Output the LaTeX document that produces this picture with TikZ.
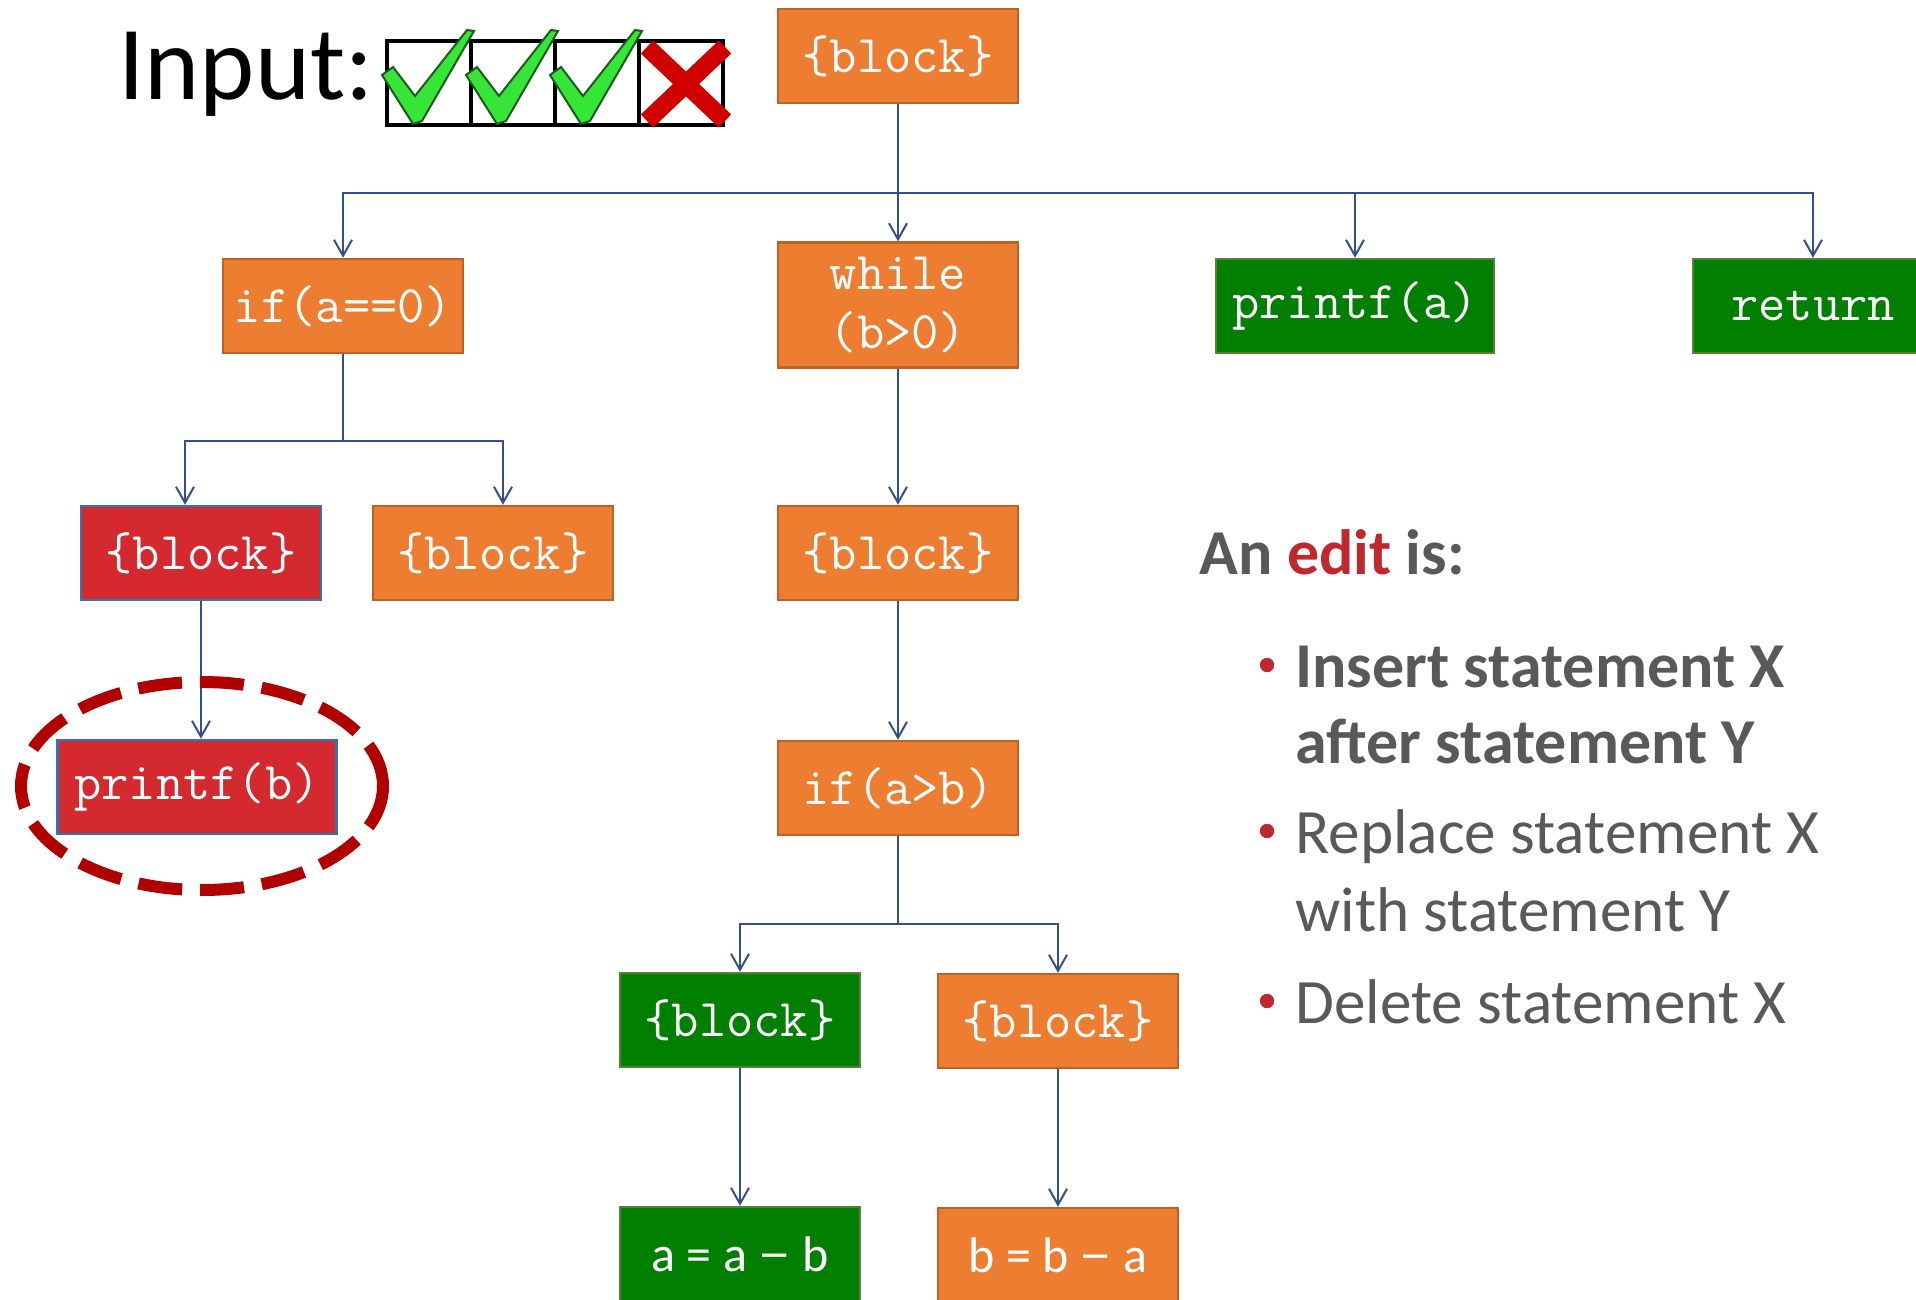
\documentclass[tikz,border=0pt]{standalone}
\usepackage{fontspec}
\setmainfont{Carlito}
\usetikzlibrary{arrows.meta}

\definecolor{stmtorange}{HTML}{ED7D31}
\definecolor{orangeline}{HTML}{BE6224}
\definecolor{stmtgreen}{HTML}{007F00}
\definecolor{greenline}{HTML}{5A7F3A}
\definecolor{stmtred}{HTML}{D3292F}
\definecolor{redline}{HTML}{2E75B6}
\definecolor{linkblue}{HTML}{34508C}
\definecolor{markred}{HTML}{B00000}
\definecolor{textgrey}{HTML}{595959}
\definecolor{editred}{HTML}{C0282F}
\definecolor{tickgreen}{HTML}{36E636}
\definecolor{tickline}{HTML}{1D5A1D}
\definecolor{crossred}{HTML}{D00000}

\begin{document}
\begin{tikzpicture}[x=0.5pt, y=-0.5pt,
  stmt/.style={draw=orangeline, fill=stmtorange, line width=1.2pt,
    minimum width=120pt, minimum height=47pt, inner sep=0pt,
    text=white, align=center, font=\ttfamily\fontsize{26.5}{29.5}\selectfont},
  okstmt/.style={stmt, draw=greenline, fill=stmtgreen},
  badstmt/.style={stmt, draw=redline, fill=stmtred},
  busline/.style={draw=linkblue, line width=1pt},
  link/.style={busline, -{Straight Barb[length=8pt,width=9pt]}},
  edititem/.style={anchor=base west, inner sep=0pt, text=textgrey,
    font=\fontsize{31.6}{37}\selectfont}]
\clip (0,0) rectangle (1916,1300);

% input test results
\node[anchor=base west, inner sep=0pt, font=\fontsize{52.5}{60}\selectfont] (inp) at (118,100) {Input:};
\foreach \bx in {387,471,555,639}
  \draw[line width=2.3pt] (\bx,41) rectangle ++(84,84);
\foreach \bx in {387,471,555}
  \filldraw[fill=tickgreen, draw=tickline, line width=1pt]
    (\bx-5,75) -- (\bx+6,67) -- (\bx+28,96) -- (\bx+80,30) -- (\bx+87,31)
    -- (\bx+35,121) -- (\bx+26,124) -- cycle;
\draw[crossred, line width=9pt] (647,47) -- (725,121);
\draw[crossred, line width=9pt] (647,121) -- (725,47);

% statements
\node[stmt] (top) at (898,56) {\{block\}};
\node[stmt] (ifa) at (343,306) {if(a==0)};
\node[stmt, minimum height=62.5pt] (loop) at (898,305) {while\\(b>0)};
\node[okstmt, minimum width=139pt] (pra) at (1355,306) {printf(a)};
\node[okstmt] (ret) at (1813,306) {return};
\node[badstmt] (blkr) at (201,553) {\{block\}};
\node[stmt] (blkb) at (493,553) {\{block\}};
\node[stmt] (body) at (898,553) {\{block\}};
\node[badstmt, minimum width=139.5pt] (prb) at (197,787) {printf(b)};
\node[stmt] (ifb) at (898,788) {if(a>b)};
\node[okstmt] (thn) at (740,1020) {\{block\}};
\node[stmt] (els) at (1058,1021) {\{block\}};
\node[okstmt, font=\fontsize{25}{30}\selectfont] (suba) at (740,1254) {a = a \scalebox{1.3}[1]{−} b};
\node[stmt, font=\fontsize{25}{30}\selectfont] (subb) at (1058,1255) {b = b \scalebox{1.3}[1]{−} a};

% top level
\coordinate (j0) at (898,193);
\draw[busline] (top) -- (j0);
\draw[link] (j0) -| (ifa);
\draw[link] (j0) -- (loop);
\draw[link] (j0) -| (pra);
\draw[link] (j0) -| (ret);

% if(a==0) branches
\coordinate (j1) at (343,441);
\draw[busline] (ifa) -- (j1);
\draw[link] (j1) -| ([xshift=-8pt]blkr.north);
\draw[link] (j1) -| ([xshift=5pt]blkb.north);
\draw[link] (blkr) -- (blkr |- prb.north);

% loop body
\draw[link] (loop) -- (body);
\draw[link] (body) -- (ifb);
\coordinate (j2) at (898,924);
\draw[busline] (ifb) -- (j2);
\draw[link] (j2) -| (thn);
\draw[link] (j2) -| (els);
\draw[link] (thn) -- (suba);
\draw[link] (els) -- (subb);

% the edited statement
\draw[markred, line width=6pt, dash pattern=on 22pt off 9pt] (202,786) ellipse [x radius=90.5pt, y radius=52pt];

% kinds of edits
\node[anchor=base west, inner sep=0pt, text=textgrey, font=\bfseries\fontsize{32}{38}\selectfont] (hdr) at (1199,574) {An \textcolor{editred}{edit} is:};
\node[edititem, font=\bfseries\fontsize{32}{37}\selectfont] (ins) at (1295,687) {Insert statement X};
\node[edititem, font=\bfseries\fontsize{32}{37}\selectfont] (ins2) at (1295,763) {after statement Y};
\node[edititem] (rep) at (1295,853) {Replace statement X};
\node[edititem] (rep2) at (1295,931) {with statement Y};
\node[edititem] (del) at (1295,1023) {Delete statement X};
\foreach \n in {ins,rep,del}
  \fill[editred] ([xshift=-14pt,yshift=11pt]\n.base west) circle (3.6pt);
\end{tikzpicture}
\end{document}
